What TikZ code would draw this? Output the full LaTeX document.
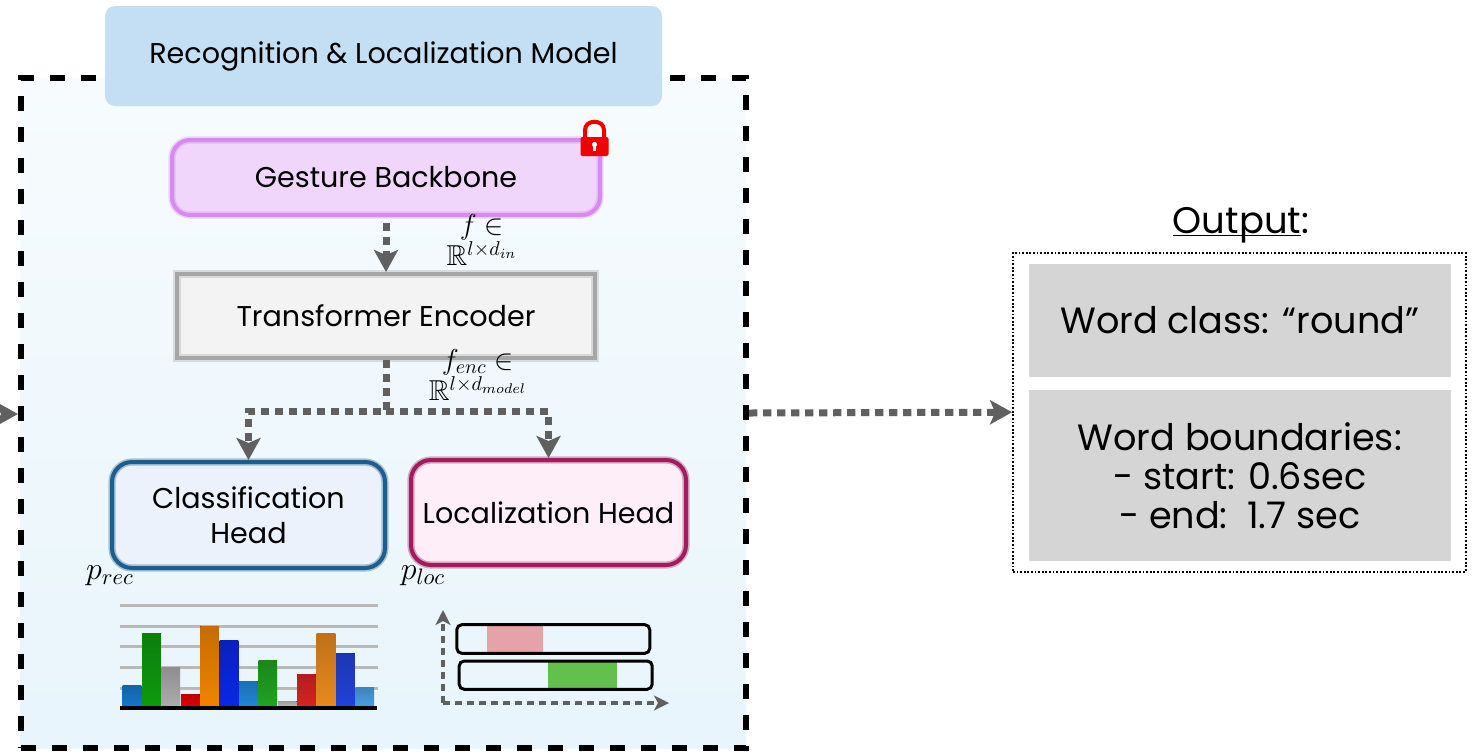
\documentclass[tikz,border=0pt]{standalone}
\usepackage{fix-cm}
\usepackage{amsmath,amssymb}
\usepackage{fontspec}
\setmainfont{Poppins}
\usetikzlibrary{arrows.meta,calc}

\definecolor{flowgray}{HTML}{606060}
\definecolor{titlefill}{HTML}{C4DFF4}
\definecolor{bbfill}{HTML}{EFD6FA}
\definecolor{bbline}{HTML}{D98AF0}
\definecolor{encfill}{HTML}{F3F3F3}
\definecolor{encline}{HTML}{A6A6A6}
\definecolor{clsfill}{HTML}{EBF2FC}
\definecolor{clsline}{HTML}{1D5E8E}
\definecolor{locfill}{HTML}{FDEEF8}
\definecolor{locline}{HTML}{A21B5E}
\definecolor{outfill}{HTML}{D5D5D5}
\definecolor{gridgray}{HTML}{B9B9B9}
\definecolor{segpink}{HTML}{E6A2A8}
\definecolor{seggreen}{HTML}{62C04C}
\definecolor{lockred}{HTML}{F20000}
\definecolor{bgtop}{HTML}{F7FBFD}
\definecolor{bgbot}{HTML}{E8F5FC}

% underline drawn just under the baseline
\newcommand{\baseul}[1]{\setbox0\hbox{#1}\rlap{\rule[-1.6pt]{\wd0}{0.8pt}}\box0}

\begin{document}
\begin{tikzpicture}[x=0.5pt,y=-0.5pt,
  lbl/.style={font=\fontsize{14.3}{17.5}\selectfont, align=center, inner sep=0pt, text=black},
  outlbl/.style={font=\fontsize{18.3}{19.6}\selectfont, align=center, inner sep=0pt, text=black},
  mathlbl/.style={font=\fontsize{14.4}{14.5}\selectfont, align=center, inner sep=0pt},
  modelbox/.style={draw=black, line width=3pt, dash pattern=on 7.5pt off 8pt,
    top color=bgtop, bottom color=bgbot},
  sketchy/.style={draw=#1, line width=2pt,
    postaction={draw=#1, line width=3.6pt, opacity=0.35}},
  flow/.style={draw=flowgray, line width=3.5pt, dash pattern=on 4.2pt off 2.8pt,
    -{Stealth[length=11pt,width=12pt,inset=2.5pt]}},
  axis/.style={draw=flowgray, line width=2.4pt, dash pattern=on 3.4pt off 2.6pt,
    -{Stealth[length=7.5pt,width=7.5pt,inset=2pt]}},
  segbar/.style={draw=black, line width=1.5pt, rounded corners=2.5pt},
  bar/.style={top color=#1!82!black, bottom color=#1}
]
\useasboundingbox (0,0) rectangle (1478,751);

% model container and its title tab
\node[modelbox, minimum width=362.75pt, minimum height=335pt, inner sep=0pt] (model) at (383.25,413) {};
\node[lbl, fill=titlefill, rounded corners=5pt, minimum width=278.5pt, minimum height=50pt] (title) at (383.5,56) {Recognition \& Localization Model};

% pipeline blocks
\node[lbl, fill=bbfill, sketchy=bbline, rounded corners=9pt, minimum width=214pt, minimum height=37.5pt] (bb) at (386,177.5) {Gesture Backbone};
\node[lbl, fill=encfill, sketchy=encline, minimum width=209pt, minimum height=42pt] (enc) at (386,316) {Transformer Encoder};
\node[lbl, fill=clsfill, sketchy=clsline, rounded corners=10pt, minimum width=136.5pt, minimum height=53pt] (cls) at (248.5,515) {Classification\\Head};
\node[lbl, fill=locfill, sketchy=locline, rounded corners=10pt, minimum width=137.5pt, minimum height=52.5pt] (loc) at (548.5,512.5) {Localization Head};

% frozen-weights lock
\fill[lockred, rounded corners=1pt] (580.5,137) rectangle (608.5,156);
\draw[lockred, line width=2pt] (585,138) -- (585,130) .. controls (585,119) and (604,119) .. (604,130) -- (604,138);
\fill[white] (594.5,144.5) circle (2.6);
\fill[white] (593.2,144.5) rectangle (595.8,151);

% feature flow
\coordinate (bbout) at (386,223);
\draw[flow] (bbout) -- (enc.north);
\node[mathlbl] (flbl) at (482,240) {$f\in$\\$\mathbb{R}^{l\times d_{in}}$};
\coordinate (split) at (386,411);
\draw[flow] (enc.south) -- (split) -| (cls.north);
\draw[flow] (split) -| (loc.north);
\node[mathlbl] (fenclbl) at (478,375) {$f_{enc}\in$\\$\mathbb{R}^{l\times d_{model}}$};

% head outputs
\node[font=\fontsize{16}{16}\selectfont, inner sep=0pt] (prec) at (110,576) {$p_{rec}$};
\node[font=\fontsize{16}{16}\selectfont, inner sep=0pt] (ploc) at (423,576) {$p_{loc}$};

% class score bar chart
\foreach \gy in {605.3,626,646.7,667.3,688}
  \draw[gridgray, line width=1.5pt] (119.5,\gy) -- (377.7,\gy);
\foreach \i/\top/\col in {0/685/1878CC,1/633/0F9A0F,2/667/ADADAD,3/694/E60000,4/626/F08400,
    5/640/0A28E6,6/681/2088D8,7/660/22A322,8/701/BDBDBD,9/674/D92323,10/633/E8891E,
    11/653/2242DA,12/687/4AA0E2}{
  \definecolor{barc}{HTML}{\col}
  \fill[bar=barc] ({122.7+19.4*\i},\top) rectangle ({122.7+19.4*\i+18.6},707);
}
\draw[black, line width=1.6pt] (120,708) -- (377,708);

% temporal segments
\coordinate (ax0) at (443,703);
\coordinate (axy) at (443,610);
\coordinate (axx) at (669,703);
\draw[axis] (ax0) -- (axy);
\draw[axis] (ax0) -- (axx);
\fill[segpink] (486.9,624.7) rectangle (543,653.3);
\draw[segbar] (456.8,624.7) rectangle (649.8,653.3);
\fill[seggreen] (548,661) rectangle (616.6,689.3);
\draw[segbar] (459.2,661) rectangle (652.2,689.3);

% incoming stream
\coordinate (inL) at (-40,414);
\draw[flow] (inL) -- (18,414);

% output panel
\node[lbl, font=\fontsize{18.5}{20}\selectfont] (outttl) at (1241,225) {\baseul{Output}:};
\node[draw=black, line width=0.9pt, dash pattern=on 0.9pt off 0.9pt, fill=white,
  minimum width=226.3pt, minimum height=159.5pt, inner sep=0pt] (out) at (1239.3,412.2) {};
\node[outlbl, fill=outfill, minimum width=210.8pt, minimum height=56.2pt] (wclass) at (1239.8,320.5) {Word class: “round”};
\node[outlbl, fill=outfill, minimum width=210.8pt, minimum height=85.2pt] (wbound) at (1239.8,475.5) {Word boundaries:\\- start: 0.6sec\\- end:\ \ 1.7 sec};

\draw[flow] (model.east) -- (out.west);
\end{tikzpicture}
\end{document}
